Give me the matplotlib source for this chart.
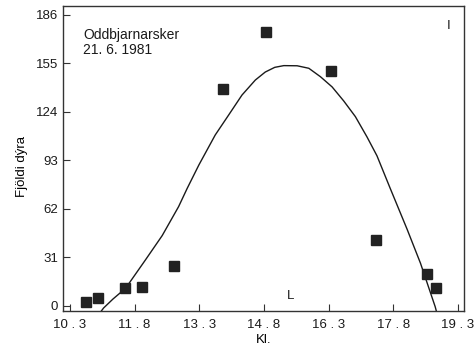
import matplotlib
matplotlib.use("Agg")
import matplotlib.pyplot as plt

plt.rcParams['font.family'] = ['Liberation Sans', 'DejaVu Sans']

# observed counts (squares)
obs_x = [10.68, 10.94, 11.58, 11.97, 12.72, 13.85, 14.84, 16.36, 17.40, 18.58, 18.79]
obs_y = [2.4, 5.1, 11.5, 12.0, 25.4, 138.5, 174.9, 150.0, 42.2, 20.3, 11.7]

# fitted curve
fit_x = [11.02, 11.08, 11.30, 11.59, 12.05, 12.44, 12.82, 13.02, 13.29, 13.67, 13.98,
         14.29, 14.60, 14.83, 15.05, 15.26, 15.57, 15.84, 16.11, 16.38, 16.65, 16.92,
         17.19, 17.42, 17.73, 18.12, 18.43, 18.77, 18.80]
fit_y = [-3.5, -1.3, 4.5, 11.3, 29.4, 45.0, 63.5, 75.2, 90.1, 109.3, 122.0,
         134.8, 144.4, 149.5, 152.5, 153.6, 153.5, 151.9, 146.5, 140.0, 131.0, 121.0,
         108.0, 96.0, 75.0, 49.0, 27.3, -0.4, -3.5]

xticks = [10.3, 11.8, 13.3, 14.8, 16.3, 17.8, 19.3]
xticklabels = ["10 . 3", "11 . 8", "13 . 3", "14 . 8", "16 . 3", "17 . 8", "19 . 3"]
yticks = [0, 31, 62, 93, 124, 155, 186]

fig = plt.figure(figsize=(4.74, 3.53), dpi=100)
ax = fig.add_axes([0.133, 0.119, 0.846, 0.864])

ax.plot(fit_x, fit_y, color='#1a1a1a', lw=1.0)
ax.plot(obs_x, obs_y, linestyle='none', marker='s', markersize=6.5,
        color='#222222', markeredgecolor='#222222')

ax.set_xlim(10.14, 19.44)
ax.set_ylim(-3.2, 191.7)
ax.set_xticks(xticks)
ax.set_xticklabels(xticklabels)
ax.set_yticks(yticks)
ax.tick_params(direction='in', length=5, width=0.8, labelsize=9.5, color='#333333',
               labelcolor='#1a1a1a')
ax.tick_params(axis='x', pad=6)
for s in ax.spines.values():
    s.set_linewidth(1.0)
    s.set_color('#333333')

ax.set_xlabel("Kl.", fontsize=9.5, labelpad=2)
ax.set_ylabel("Fjöldi dýra", fontsize=9.5)
ax.yaxis.set_label_coords(-0.087, 0.475)

ax.text(0.05, 0.928, "Oddbjarnarsker\n21. 6. 1981", transform=ax.transAxes,
        fontsize=10, va='top', ha='left', linespacing=1.1, color='#1a1a1a')
ax.text(15.41, 6.4, "L", fontsize=9.5, ha='center', va='center', color='#1a1a1a')
ax.text(19.08, 179, "I", fontsize=9.5, ha='center', va='center', color='#1a1a1a')

fig.savefig("out.png", dpi=100)
